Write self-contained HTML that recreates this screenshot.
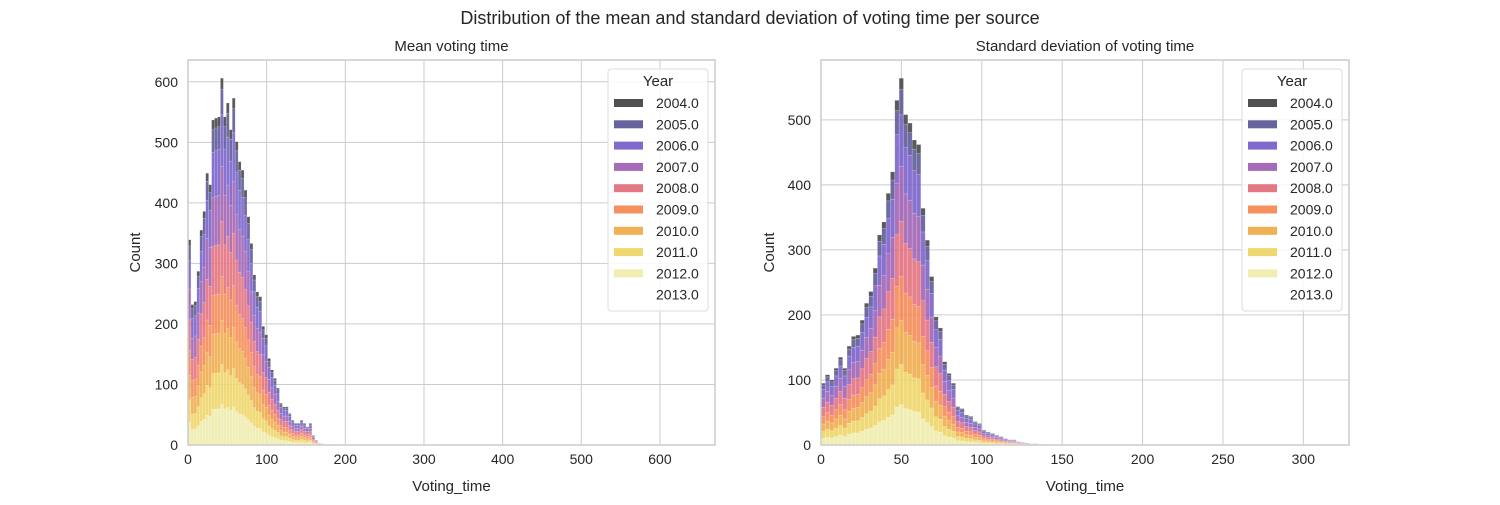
<!DOCTYPE html>
<html><head><meta charset="utf-8"><style>
body{margin:0;background:#fff;font-family:"Liberation Sans","DejaVu Sans",sans-serif;}
svg text{font-family:"Liberation Sans","DejaVu Sans",sans-serif;fill:#262626;}
</style></head><body>
<svg id="c" width="1500" height="500" viewBox="0 0 1500 500">
<text x="750" y="24" font-size="18" text-anchor="middle">Distribution of the mean and standard deviation of voting time per source</text>
</svg>
<script>
const years = ["2004.0","2005.0","2006.0","2007.0","2008.0","2009.0","2010.0","2011.0","2012.0","2013.0"];
const yearColors = ["#3d3d3d","#555293","#7359c8","#9b5bb0","#e06a78","#f5854e","#eea843","#edd45f","#efeba8","#ffffff"];
// share of each year in a stacked bar, bottom (2012) to top (2004)
const yearShares = [0.03,0.07,0.14,0.15,0.15,0.12,0.12,0.11,0.11,0.0];
const meanBinWidth = 3.75;
const meanCounts = [339,232,237,287,355,386,449,430,537,540,542,606,542,565,521,573,501,468,454,421,377,333,281,253,245,196,182,143,124,110,94,69,63,63,52,41,36,36,41,36,30,36,16,8,3,2,1,1,1];
const sdBinWidth = 2.7;
const sdCounts = [95,108,100,118,135,118,152,167,169,192,218,236,272,323,343,387,420,530,564,508,495,469,462,364,315,259,197,180,128,110,95,59,56,46,44,36,33,23,20,18,15,13,10,8,8,5,4,3,2,2,1,1];
const meanXTicks = [0,100,200,300,400,500,600];
const meanYTicks = [0,100,200,300,400,500,600];
const sdXTicks = [0,50,100,150,200,250,300];
const sdYTicks = [0,100,200,300,400,500];

const svg = document.getElementById('c');
const NS = 'http://www.w3.org/2000/svg';
function mk(tag, attrs, parent){const e=document.createElementNS(NS,tag);for(const k in attrs)e.setAttribute(k,attrs[k]);(parent||svg).appendChild(e);return e;}

function panel(o){
  const g = mk('g',{});
  
  
  const X = v => o.x0 + (v - 0) / o.xMax * (o.x1 - o.x0);
  const Y = v => o.y1 - v / o.yMax * (o.y1 - o.y0);
  o.xTicks.forEach(t=>{const l=mk('line',{x1:X(t),x2:X(t),y1:o.y0,y2:o.y1,stroke:'#cccccc','stroke-width':1},g);
    
    
    const tx=mk('text',{x:X(t),y:o.y1+19,'font-size':14,'text-anchor':'middle'},g);tx.textContent=t;
    
    });
  o.yTicks.forEach(t=>{const l=mk('line',{x1:o.x0,x2:o.x1,y1:Y(t),y2:Y(t),stroke:'#cccccc','stroke-width':1},g);
    
    
    const tx=mk('text',{x:o.x0-10,y:Y(t)+5,'font-size':14,'text-anchor':'end'},g);tx.textContent=t;
    
    });
  const bw = o.binWidth;
  o.counts.forEach((c,i)=>{
    let acc=0;
    for(let k=8;k>=0;k--){
      const h=c*yearShares[k];
      const r=mk('rect',{x:X(i*bw),y:Y(acc+h),width:Math.max(0.5,X(bw)-X(0)),height:Y(acc)-Y(acc+h),fill:yearColors[k],'fill-opacity':0.85,stroke:'#ffffff','stroke-opacity':0.35,'stroke-width':0.5},g);
      
      
      acc+=h;
    }
  });
  const fr=mk('rect',{x:o.x0,y:o.y0,width:o.x1-o.x0,height:o.y1-o.y0,fill:'none',stroke:'#cccccc','stroke-width':1.5},g);
  
  
  const ti=mk('text',{x:(o.x0+o.x1)/2,y:o.y0-9,'font-size':15,'text-anchor':'middle'},g);ti.textContent=o.title;
  
  
  const xl=mk('text',{x:(o.x0+o.x1)/2,y:491,'font-size':15,'text-anchor':'middle'},g);xl.textContent='Voting_time';
  
  
  const yl=mk('text',{x:0,y:0,'font-size':15,'text-anchor':'middle',transform:`translate(${o.ylx},${(o.y0+o.y1)/2}) rotate(-90)`},g);yl.textContent='Count';
  
  
  const lg=mk('g',{},g);
  
  
  const lx=o.legX;
  mk('rect',{x:lx,y:69,width:100,height:242,rx:3,fill:'#ffffff','fill-opacity':0.85,stroke:'#dddddd'},lg);
  const lt=mk('text',{x:lx+50,y:86,'font-size':15,'text-anchor':'middle'},lg);lt.textContent='Year';
  
  
  years.forEach((yr,i)=>{
    const yy=103+i*21.3;
    const e=mk('g',{},lg);
    
    
    if(i<9) mk('rect',{x:lx+6,y:yy-4,width:29,height:8,fill:yearColors[i],'fill-opacity':0.9},e);
    const t=mk('text',{x:lx+48,y:yy+5,'font-size':14},e);t.textContent=yr;
  });
}
panel({name:'mean-voting-time-panel',title:'Mean voting time',x0:188,x1:715,y0:60,y1:445,xMax:670,yMax:636,xTicks:meanXTicks,yTicks:meanYTicks,binWidth:meanBinWidth,counts:meanCounts,ylx:140,legX:608});
panel({name:'std-voting-time-panel',title:'Standard deviation of voting time',x0:821,x1:1349,y0:60,y1:445,xMax:328.4,yMax:592,xTicks:sdXTicks,yTicks:sdYTicks,binWidth:sdBinWidth,counts:sdCounts,ylx:774,legX:1242});
</script>
</body></html>
